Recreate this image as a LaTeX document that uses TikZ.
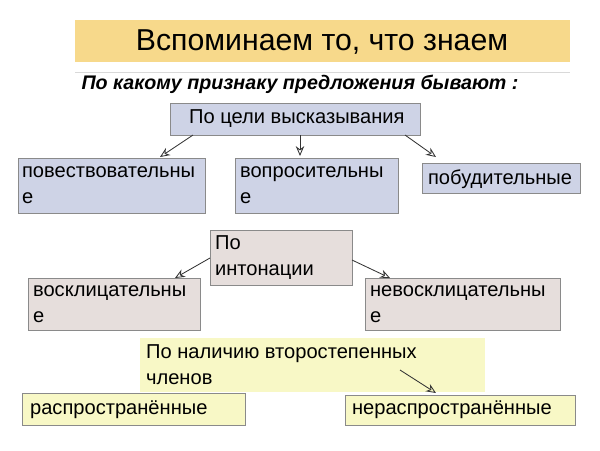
\documentclass[tikz,border=0pt]{standalone}
\usepackage{fontspec}
\setmainfont{Liberation Sans}
\usetikzlibrary{arrows.meta}
\definecolor{titley}{HTML}{F7D98B}
\definecolor{blueb}{HTML}{CED3E6}
\definecolor{pinkb}{HTML}{E6DEDC}
\definecolor{yelb}{HTML}{F8F8C6}
\definecolor{edge}{HTML}{8A8A8A}
\tikzset{
 box/.style={draw=edge,line width=0.6pt},
 two/.style={anchor=north west,align=left,inner sep=2pt,font=\fontsize{14.3}{18}\selectfont},
 one/.style={anchor=west,inner sep=2pt,font=\fontsize{14.3}{16}\selectfont},
 conn/.style={-{Stealth[open,length=7pt,width=6pt]},line width=0.6pt,draw=black!80}
}
\begin{document}
\begin{tikzpicture}[x=0.025cm,y=-0.025cm]
\useasboundingbox (0,0) rectangle (600,450);
\fill[titley] (75,20) rectangle (570,62);
\node (title) at (322,42) {\fontsize{21.5}{25}\selectfont Вспоминаем то, что знаем};
\draw[black!15] (75,72) -- (570,72);
\node (sub) at (300,84) {\fontsize{14}{16}\selectfont\bfseries\itshape По какому признаку предложения бывают :};
\path[box,fill=blueb] (170,103) rectangle (420,135);
\node[one] (goal) at (186,119) {По цели высказывания};
\path[box,fill=blueb] (18,158) rectangle (205,213);
\node[two] (pov) at (19,164) {повествовательны\\е};
\path[box,fill=blueb] (235,158) rectangle (398,213);
\node[two] (vop) at (237,164) {вопросительны\\е};
\path[box,fill=blueb] (422,163) rectangle (580,193);
\node[one] (pob) at (425,179) {побудительные};
\coordinate (g1) at (193,135); \coordinate (p1) at (160,157);
\coordinate (g2) at (300,135); \coordinate (v1) at (300,156);
\coordinate (g3) at (405,135); \coordinate (b1) at (436,157);
\draw[conn] (g1) -- (p1);
\draw[conn] (g2) -- (v1);
\draw[conn] (g3) -- (b1);
\path[box,fill=pinkb] (210,230) rectangle (352,285);
\node[two] (int) at (212,233) {По\\интонации};
\path[box,fill=pinkb] (28,278) rectangle (200,330);
\node[two] (vos) at (30,283) {восклицательны\\е};
\path[box,fill=pinkb] (365,278) rectangle (560,330);
\node[two] (nev) at (367,283) {невосклицательны\\е};
\coordinate (i1) at (210,258); \coordinate (vv) at (175,278);
\coordinate (i2) at (352,260); \coordinate (nn) at (390,278);
\draw[conn] (i1) -- (vv);
\draw[conn] (i2) -- (nn);
\path[fill=yelb] (140,338) rectangle (485,392);
\node[two] (sec) at (143,342) {По наличию второстепенных\\членов};
\path[box,fill=yelb] (22,393) rectangle (245,425);
\node[one] (ras) at (27,410) {распространённые};
\path[box,fill=yelb] (345,395) rectangle (575,425);
\node[one] (ner) at (349,410) {нераспространённые};
\coordinate (s1) at (400,370); \coordinate (n1) at (436,393);
\draw[conn] (s1) -- (n1);
\end{tikzpicture}
\end{document}
